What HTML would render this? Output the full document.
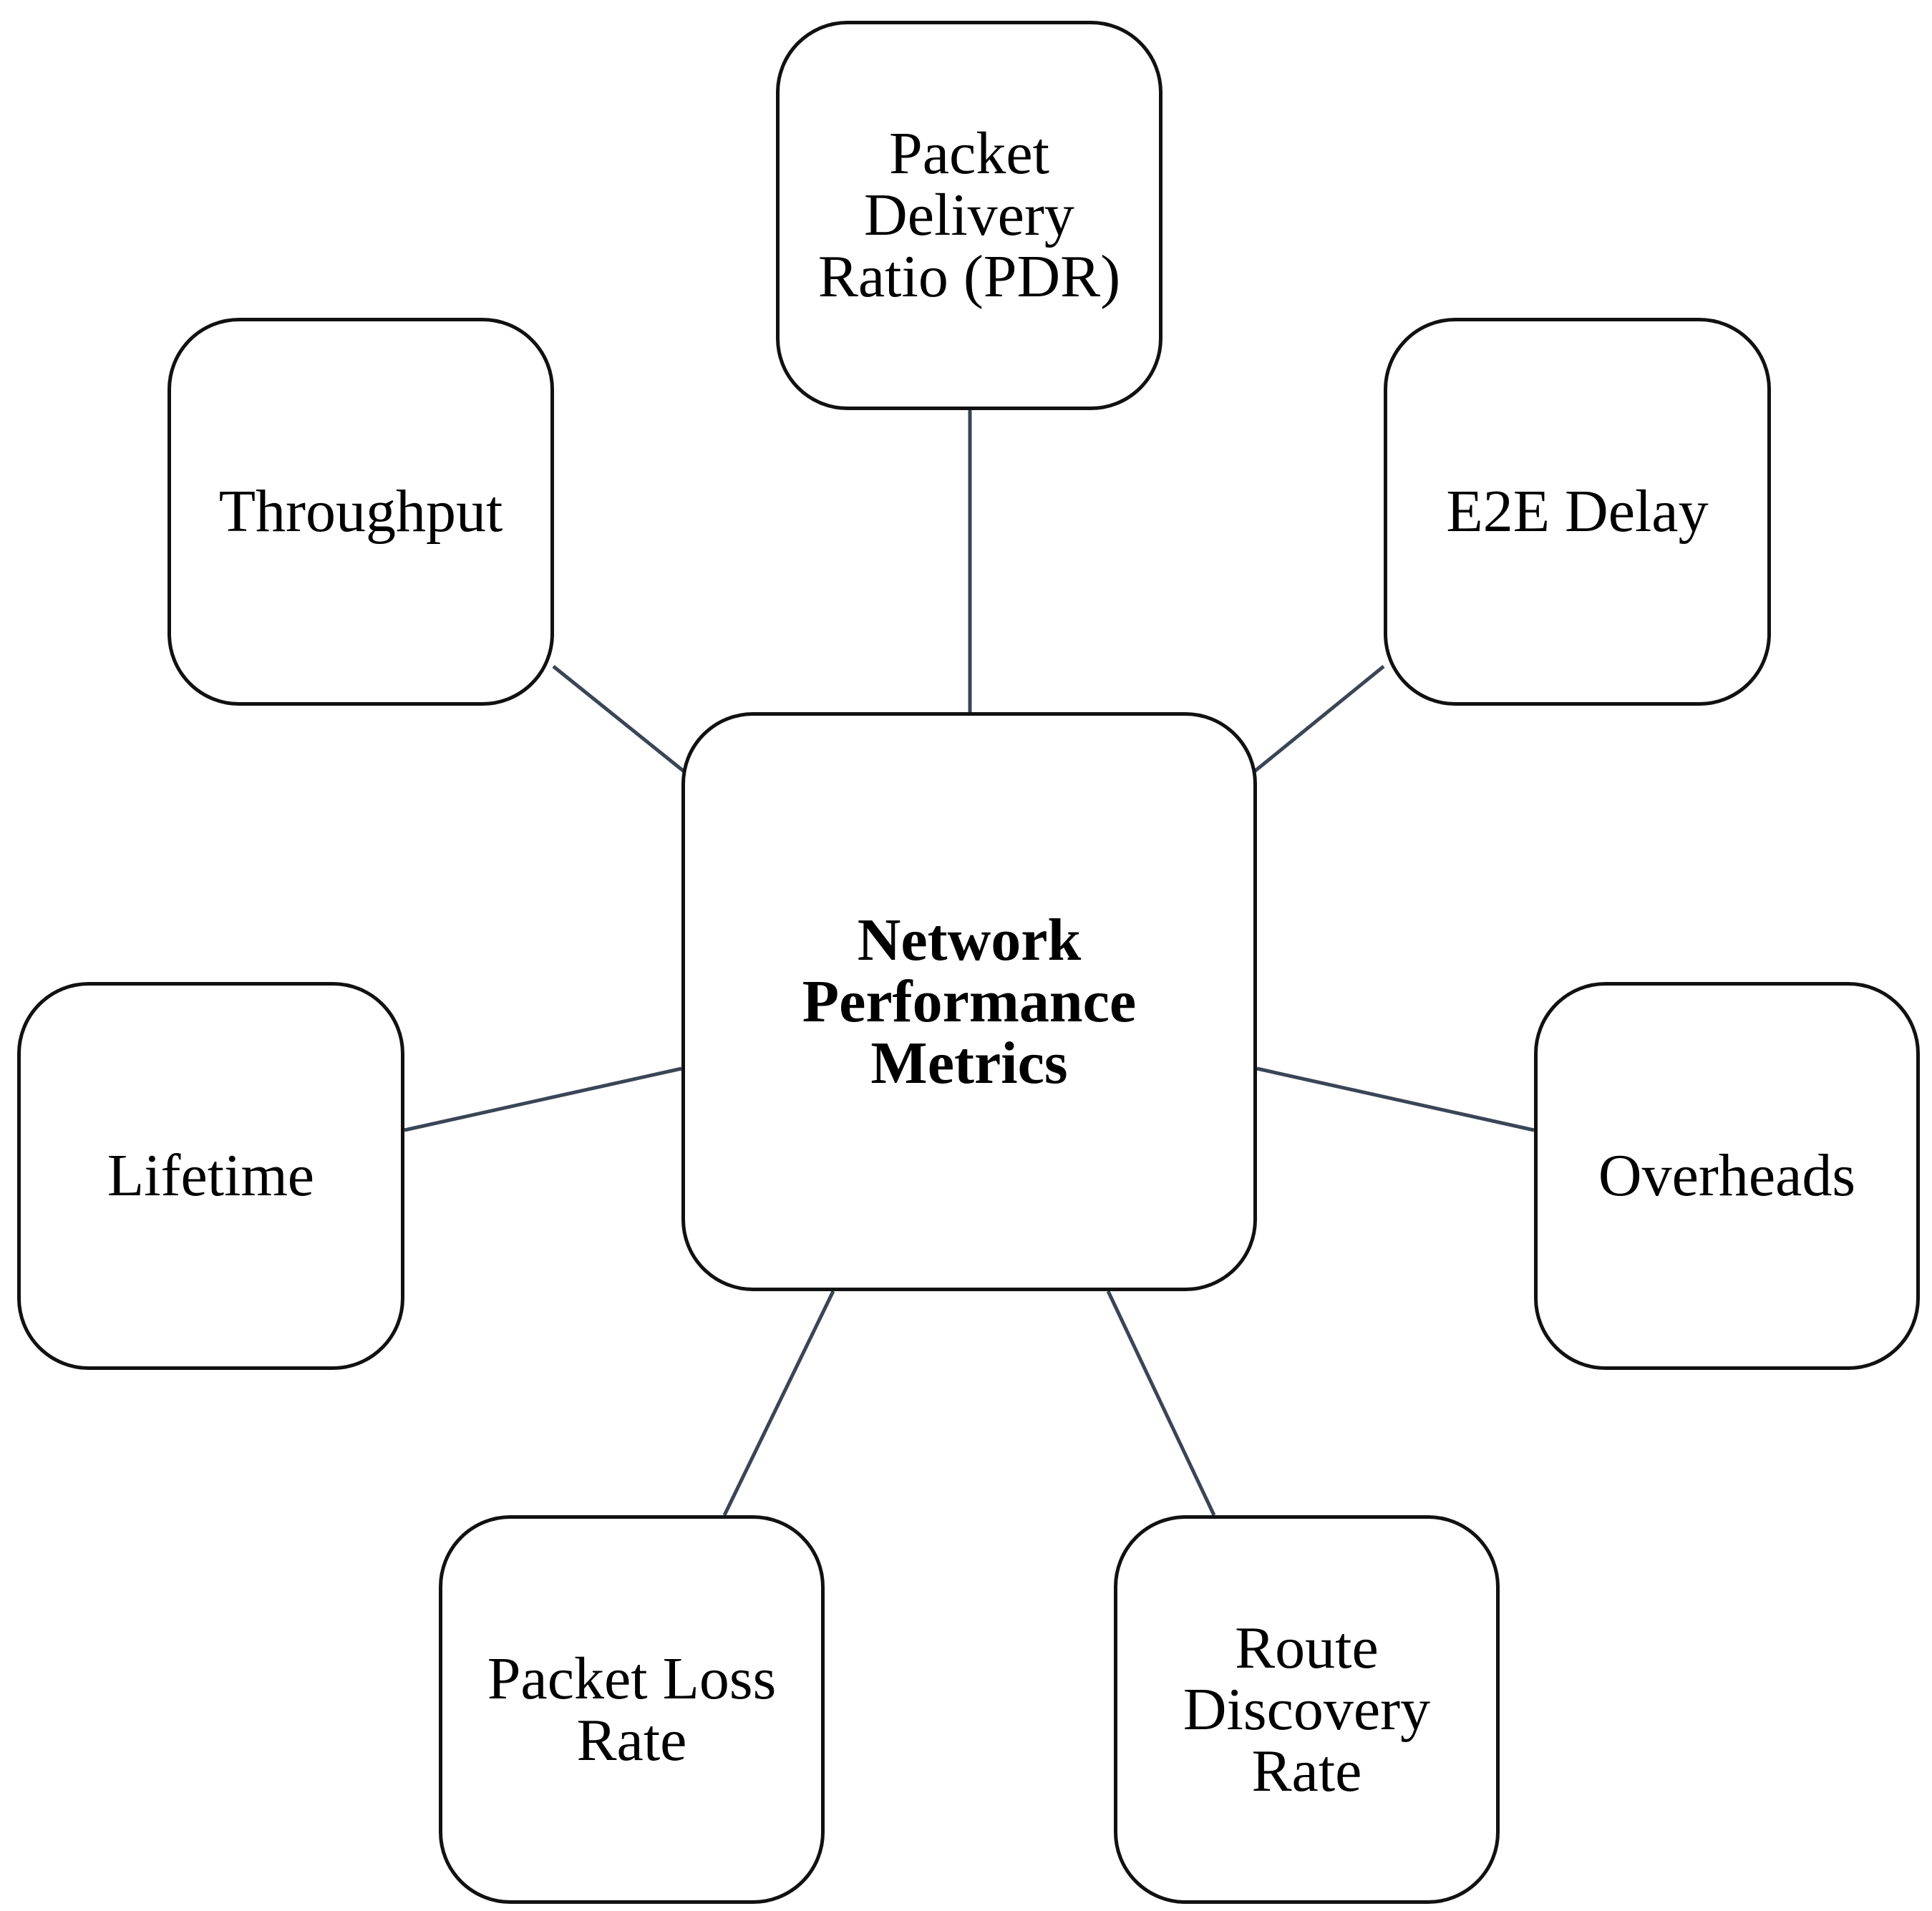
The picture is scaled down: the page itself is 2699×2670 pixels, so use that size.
<!DOCTYPE html>
<html><head><meta charset="utf-8"><style>
body{margin:0;background:#fff;}
.wrap{position:relative;width:2699px;height:2670px;overflow:hidden;}
svg{position:absolute;left:0;top:0;}
.b{position:absolute;box-sizing:border-box;border:5px solid #111;border-radius:100px;background:#fff;display:flex;align-items:center;justify-content:center;text-align:center;font-family:"Liberation Serif",serif;font-size:84px;line-height:86px;color:#000;}
.c{font-weight:bold;}
</style></head><body><div class="wrap">
<svg width="2699" height="2670">
<g stroke="#3a4556" stroke-width="5">
<line x1="1355" y1="573" x2="1355" y2="995"/>
<line x1="773" y1="931" x2="957" y2="1079"/>
<line x1="1933" y1="931" x2="1751" y2="1079"/>
<line x1="565" y1="1579" x2="952" y2="1493"/>
<line x1="1756" y1="1493" x2="2143" y2="1579"/>
<line x1="1164" y1="1804" x2="1012" y2="2117"/>
<line x1="1548" y1="1804" x2="1696" y2="2117"/>
</g></svg>
<div class="b" style="left:1084px;top:29px;width:540px;height:544px;">Packet<br>Delivery<br>Ratio (PDR)</div>
<div class="b" style="left:234px;top:444px;width:540px;height:542px;">Throughput</div>
<div class="b" style="left:1933px;top:444px;width:541px;height:542px;">E2E Delay</div>
<div class="b c" style="left:952px;top:995px;width:804px;height:809px;">Network<br>Performance<br>Metrics</div>
<div class="b" style="left:24px;top:1372px;width:541px;height:542px;">Lifetime</div>
<div class="b" style="left:2143px;top:1372px;width:539px;height:542px;">Overheads</div>
<div class="b" style="left:613px;top:2117px;width:539px;height:543px;">Packet Loss<br>Rate</div>
<div class="b" style="left:1556px;top:2117px;width:539px;height:543px;">Route<br>Discovery<br>Rate</div>
</div></body></html>
